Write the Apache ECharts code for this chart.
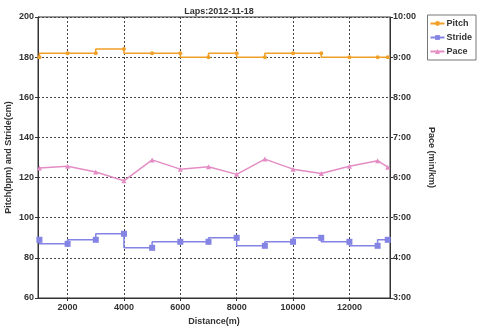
<!DOCTYPE html>
<html>
<head>
<meta charset="utf-8">
<title>Laps</title>
<script src="https://cdn.jsdelivr.net/npm/echarts@6/dist/echarts.min.js"></script>
<style>
html,body{margin:0;padding:0;background:#fff;}
#chart{width:480px;height:329px;}
</style>
</head>
<body>
<div id="chart"></div>
<script>
// distance of each lap point (m)
var distance = [1000, 2000, 3000, 4000, 5000, 6000, 7000, 8000, 9000, 10000, 11000, 12000, 13000, 13360];
// pitch (bpm)
var pitch = [180, 182, 182, 184, 182, 182, 180, 182, 180, 182, 182, 180, 180, 180];
// stride (cm)
var stride = [89, 87, 89, 92, 85, 88, 88, 90, 86, 88, 90, 88, 86, 89];
// pace (min/km, decimal minutes)
var pace = [6.24, 6.28, 6.14, 5.92, 6.44, 6.21, 6.27, 6.08, 6.46, 6.21, 6.10, 6.28, 6.42, 6.26];

function pairs(ys){
  return distance.map(function(d, i){ return [d, ys[i]]; });
}

var txt = {fontFamily:'Liberation Sans, Arial, sans-serif', fontWeight:'bold', fontSize:9, color:'#333'};

var chart = echarts.init(document.getElementById('chart'));
chart.setOption({
  animation:false,
  title:{
    text:'Laps:2012-11-18', left:214, top:2, textAlign:'center',
    textStyle:{fontFamily:txt.fontFamily, fontWeight:'bold', fontSize:9, color:'#333'}
  },
  legend:{
    orient:'vertical', right:4, top:15,
    itemWidth:14, itemHeight:6, itemGap:5,
    padding:[4,4,4,2],
    borderColor:'#777', borderWidth:1,
    textStyle:{fontFamily:txt.fontFamily, fontWeight:'bold', fontSize:9, color:'#333', padding:[0,0,0,-3]},
    data:['Pitch','Stride','Pace']
  },
  grid:{left:38, right:90, top:17, bottom:31, show:true, borderColor:'#333', borderWidth:1,
    outerBoundsMode:'none'},
  xAxis:{
    type:'value', min:950, max:13440,
    name:'Distance(m)', nameLocation:'middle', nameGap:15,
    nameTextStyle:txt,
    axisLine:{lineStyle:{color:'#333'}},
    axisTick:{length:3, lineStyle:{color:'#333'}},
    axisLabel:Object.assign({margin:5, showMinLabel:false, showMaxLabel:false,
      formatter:function(v){ return String(v); }}, txt),
    splitLine:{lineStyle:{color:'#444', type:[2,2]}}
  },
  yAxis:[{
    type:'value', min:60, max:200, interval:20,
    name:'Pitch(bpm) and Stride(cm)', nameLocation:'middle', nameGap:25,
    nameMoveOverlap:false,
    nameTextStyle:txt,
    axisLine:{show:true, lineStyle:{color:'#333'}},
    axisTick:{show:true, length:3, lineStyle:{color:'#333'}},
    axisLabel:Object.assign({margin:4}, txt),
    splitLine:{lineStyle:{color:'#444', type:[2,2]}}
  },{
    type:'value', min:3, max:10, interval:1,
    name:'Pace (min/km)', nameLocation:'middle', nameGap:34,
    nameRotate:-90,
    nameTextStyle:txt,
    axisLine:{show:true, lineStyle:{color:'#333'}},
    axisTick:{show:true, length:3, lineStyle:{color:'#333'}},
    axisLabel:Object.assign({margin:3, formatter:function(v){ return v + ':00'; }}, txt),
    splitLine:{show:false}
  }],
  series:[{
    name:'Pitch', type:'line', step:'start', yAxisIndex:0,
    data:pairs(pitch),
    symbol:'circle', symbolSize:4,
    itemStyle:{color:'#F0A028'},
    lineStyle:{color:'#F0A028', width:1.5}
  },{
    name:'Stride', type:'line', step:'start', yAxisIndex:0,
    data:pairs(stride),
    symbol:'rect', symbolSize:6,
    itemStyle:{color:'#8484E4'},
    lineStyle:{color:'#8484E4', width:1.5}
  },{
    name:'Pace', type:'line', yAxisIndex:1,
    data:pairs(pace),
    symbol:'triangle', symbolSize:5,
    itemStyle:{color:'#E48CC4'},
    lineStyle:{color:'#E48CC4', width:1.5}
  }]
});
</script>
</body>
</html>
